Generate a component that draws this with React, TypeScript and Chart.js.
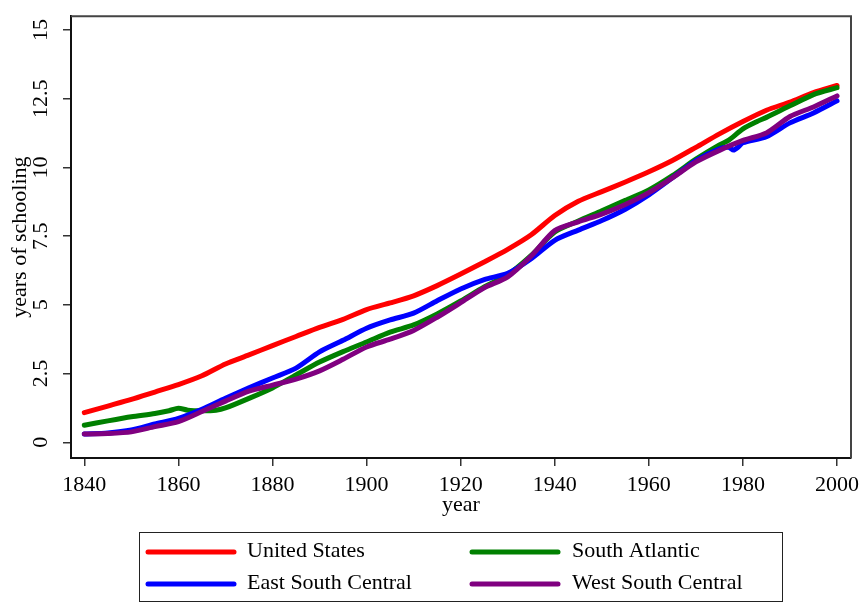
import React, { useEffect, useRef } from "react";
import { Chart, registerables } from "chart.js";

Chart.register(...registerables);

const FONT = "'Liberation Serif', 'Times New Roman', serif";

const seriesLabels = ["United States", "South Atlantic", "East South Central", "West South Central"];
const seriesColors = ["#ff0000", "#008000", "#0000ff", "#800080"];

const usYears = [1840, 1845, 1850, 1855, 1860, 1865, 1870, 1875, 1880, 1885, 1890, 1895, 1900, 1905, 1910, 1915, 1920, 1925, 1930, 1935, 1940, 1945, 1950, 1955, 1960, 1965, 1970, 1975, 1980, 1985, 1990, 1995, 2000];
const usValues = [1.08, 1.32, 1.56, 1.83, 2.10, 2.42, 2.85, 3.18, 3.52, 3.85, 4.18, 4.47, 4.83, 5.07, 5.33, 5.70, 6.12, 6.56, 7.02, 7.55, 8.25, 8.77, 9.12, 9.47, 9.84, 10.25, 10.73, 11.22, 11.67, 12.08, 12.38, 12.72, 12.98];

const saYears = [1840, 1845, 1850, 1855, 1858, 1860, 1862, 1865, 1868, 1870, 1875, 1880, 1885, 1890, 1895, 1900, 1905, 1910, 1915, 1920, 1925, 1930, 1935, 1940, 1945, 1950, 1955, 1960, 1965, 1970, 1975, 1977, 1980, 1983, 1985, 1990, 1995, 2000];
const saValues = [0.62, 0.78, 0.93, 1.05, 1.15, 1.24, 1.17, 1.15, 1.17, 1.25, 1.60, 1.98, 2.45, 2.92, 3.30, 3.65, 4.01, 4.27, 4.67, 5.14, 5.65, 6.10, 6.80, 7.65, 8.05, 8.42, 8.80, 9.18, 9.70, 10.30, 10.82, 10.99, 11.40, 11.67, 11.82, 12.24, 12.65, 12.90];

const escYears = [1840, 1845, 1850, 1855, 1860, 1865, 1870, 1875, 1880, 1885, 1890, 1895, 1900, 1905, 1910, 1915, 1920, 1925, 1930, 1935, 1940, 1945, 1950, 1955, 1960, 1965, 1970, 1975, 1977, 1978, 1979, 1980, 1985, 1990, 1995, 2000];
const escValues = [0.30, 0.34, 0.45, 0.67, 0.87, 1.20, 1.60, 1.98, 2.34, 2.70, 3.29, 3.71, 4.15, 4.45, 4.70, 5.15, 5.58, 5.92, 6.15, 6.68, 7.35, 7.72, 8.07, 8.48, 9.00, 9.62, 10.25, 10.68, 10.73, 10.63, 10.74, 10.90, 11.12, 11.62, 11.98, 12.42];

const wscYears = [1840, 1845, 1850, 1855, 1860, 1865, 1870, 1875, 1880, 1885, 1890, 1895, 1900, 1905, 1910, 1915, 1920, 1925, 1930, 1935, 1940, 1945, 1950, 1955, 1960, 1965, 1970, 1975, 1980, 1985, 1990, 1995, 2000];
const wscValues = [0.30, 0.32, 0.38, 0.57, 0.75, 1.12, 1.50, 1.86, 2.08, 2.30, 2.60, 3.02, 3.47, 3.75, 4.07, 4.55, 5.08, 5.62, 6.02, 6.78, 7.70, 8.02, 8.30, 8.65, 9.08, 9.62, 10.20, 10.62, 10.98, 11.25, 11.85, 12.20, 12.60];

const xTicks = [1840, 1860, 1880, 1900, 1920, 1940, 1960, 1980, 2000];
const yTicks = [0, 2.5, 5, 7.5, 10, 12.5, 15];

const toPoints = (xs: number[], ys: number[]) => xs.map((x, i) => ({ x, y: ys[i] }));

const framePlugin = {
  id: "frameBox",
  afterDraw(chart: any) {
    const { ctx } = chart;
    const { top, right, bottom, left } = chart.chartArea;
    ctx.save();
    ctx.strokeStyle = "#444";
    ctx.lineWidth = 2;
    ctx.beginPath();
    ctx.moveTo(left, top);
    ctx.lineTo(right, top);
    ctx.lineTo(right, bottom);
    ctx.stroke();
    ctx.restore();
  },
};

const legendPlugin = {
  id: "boxLegend",
  afterDraw(chart: any) {
    const { ctx } = chart;
    ctx.save();
    ctx.strokeStyle = "#222";
    ctx.lineWidth = 1;
    ctx.strokeRect(139.5, 532.5, 643, 69);
    chart.data.datasets.forEach((ds: any, k: number) => {
      const col = k % 2;
      const row = Math.floor(k / 2);
      const lx = 148 + col * 324;
      const ly = 552 + row * 32;
      ctx.strokeStyle = ds.borderColor;
      ctx.lineWidth = 5;
      ctx.lineCap = "round";
      ctx.beginPath();
      ctx.moveTo(lx, ly);
      ctx.lineTo(lx + 86, ly);
      ctx.stroke();
      ctx.fillStyle = "#000";
      ctx.font = `22px ${FONT}`;
      ctx.textBaseline = "middle";
      ctx.textAlign = "left";
      ctx.fillText(ds.label, 247 + col * 325, ly - 1);
    });
    ctx.restore();
  },
};

export default function App() {
  const ref = useRef<HTMLCanvasElement | null>(null);

  useEffect(() => {
    if (!ref.current) return;
    const series = [
      { years: usYears, values: usValues },
      { years: saYears, values: saValues },
      { years: escYears, values: escValues },
      { years: wscYears, values: wscValues },
    ];
    const font = { family: FONT, size: 22 };
    const chart = new Chart(ref.current, {
      type: "line",
      data: {
        datasets: series.map((s, i) => ({
          label: seriesLabels[i],
          data: toPoints(s.years, s.values),
          borderColor: seriesColors[i],
          backgroundColor: seriesColors[i],
          borderWidth: 5,
          pointRadius: 0,
          tension: 0.25,
          borderCapStyle: "round",
          borderJoinStyle: "round",
          fill: false,
          order: 4 - i,
        })),
      },
      options: {
        responsive: false,
        animation: false,
        devicePixelRatio: 1,
        layout: { padding: { top: 9, right: 15, bottom: 84, left: 0 } },
        plugins: {
          legend: { display: false },
          tooltip: { enabled: false },
        },
        scales: {
          x: {
            type: "linear",
            min: 1837.17,
            max: 2002.97,
            afterBuildTicks: (s: any) => {
              s.ticks = xTicks.map((v) => ({ value: v }));
            },
            afterFit: (s: any) => {
              s.height = 62;
            },
            grid: { drawOnChartArea: false, drawTicks: true, tickLength: 8, color: "#333", lineWidth: 1.5 },
            border: { display: true, color: "#111", width: 2 },
            ticks: {
              font,
              color: "#000",
              padding: 6,
              minRotation: 0,
              maxRotation: 0,
              autoSkip: false,
              callback: (v: any) => String(v),
            },
            title: { display: true, text: "year", font, color: "#000", padding: { top: 0, bottom: 2 } },
          },
          y: {
            type: "linear",
            min: -0.57,
            max: 15.5,
            afterBuildTicks: (s: any) => {
              s.ticks = yTicks.map((v) => ({ value: v }));
            },
            afterFit: (s: any) => {
              s.width = 71;
            },
            grid: { drawOnChartArea: false, drawTicks: true, tickLength: 8, color: "#333", lineWidth: 1.5 },
            border: { display: true, color: "#111", width: 2 },
            ticks: {
              font,
              color: "#000",
              padding: 3,
              minRotation: 90,
              maxRotation: 90,
              crossAlign: "center",
              autoSkip: false,
              callback: (v: any) => String(v),
            },
            title: { display: true, text: "years of schooling", font, color: "#000", padding: { top: 7, bottom: 0 } },
          },
        },
      },
      plugins: [framePlugin, legendPlugin],
    } as any);
    return () => chart.destroy();
  }, []);

  return (
    <div style={{ position: "absolute", left: 0, top: 0, width: 866, height: 604, background: "#fff" }}>
      <canvas ref={ref} width={866} height={604} />
    </div>
  );
}
